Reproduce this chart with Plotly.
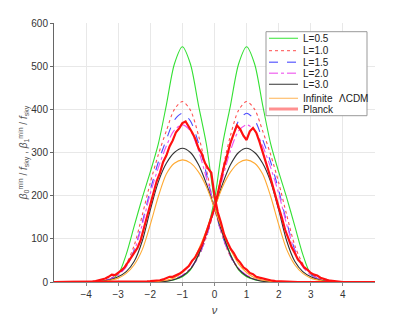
import plotly.graph_objects as go

# ---------------- data ----------------
nu = [-4.5, -4.25, -4.0, -3.75, -3.5, -3.25, -3.0, -2.75, -2.5, -2.25, -2.0, -1.75, -1.5,
      -1.25, -1.0, -0.75, -0.5, -0.25, 0.0, 0.25, 0.5, 0.75, 1.0, 1.25, 1.5, 1.75, 2.0,
      2.25, 2.5, 2.75, 3.0, 3.25, 3.5, 3.75, 4.0, 4.25, 4.5]

b0_L05 = [0, 0, 0, 0.5, 2, 6, 18, 64, 130, 195, 255, 320, 410, 505, 545, 505, 410, 318, 190,
          115, 64, 28, 12, 5, 2, 0.5, 0, 0, 0, 0, 0, 0, 0, 0, 0, 0, 0]
b1_L05 = [0, 0, 0, 0, 0, 0, 0, 0, 0, 0, 0, 0.5, 2, 5, 12, 28, 64, 115, 190, 318, 410, 505, 545,
          505, 410, 320, 255, 195, 130, 64, 18, 6, 2, 0.5, 0, 0, 0]

b0_L10 = [0, 0, 0.3, 1, 3, 8, 20, 42, 85, 155, 230, 295, 350, 400, 418, 398, 340, 260, 171,
          105, 58, 30, 15, 7, 3, 1, 0.5, 0.2, 0, 0, 0, 0, 0, 0, 0, 0, 0]
b1_L10 = [0, 0, 0, 0, 0, 0, 0, 0, 0, 0.2, 0.5, 1, 3, 7, 15, 30, 58, 105, 171, 260, 340, 398, 418,
          400, 350, 295, 230, 155, 85, 42, 20, 8, 3, 1, 0.3, 0, 0]

b0_L15 = [0, 0, 0.3, 1, 2.5, 7, 17, 37, 75, 138, 213, 278, 330, 375, 391, 373, 322, 250, 171,
          106, 59, 31, 15, 7, 3, 1, 0.3, 0, 0, 0, 0, 0, 0, 0, 0, 0, 0]
b1_L15 = [0, 0, 0, 0, 0, 0, 0, 0, 0, 0, 0.3, 1, 3, 7, 15, 31, 59, 106, 171, 250, 322, 373, 391,
          375, 330, 278, 213, 138, 75, 37, 17, 7, 2.5, 1, 0.3, 0, 0]

b0_L20 = [0, 0, 0.3, 0.8, 2, 6, 16, 35, 72, 133, 205, 265, 315, 352, 364, 350, 305, 240, 171,
          107, 60, 32, 16, 7, 3, 1, 0.3, 0, 0, 0, 0, 0, 0, 0, 0, 0, 0]
b1_L20 = [0, 0, 0, 0, 0, 0, 0, 0, 0, 0, 0.3, 1, 3, 7, 16, 32, 60, 107, 171, 240, 305, 350, 364,
          352, 315, 265, 205, 133, 72, 35, 16, 6, 2, 0.8, 0.3, 0, 0]

b0_L30 = [0, 0, 0, 0.5, 1.5, 5, 12, 24, 48, 95, 167, 232, 275, 300, 310, 300, 272, 227, 171,
          112, 62, 30, 14, 6, 2, 0.5, 0, 0, 0, 0, 0, 0, 0, 0, 0, 0, 0]
b1_L30 = [0, 0, 0, 0, 0, 0, 0, 0, 0, 0, 0, 0.5, 2, 6, 14, 30, 62, 112, 171, 227, 272, 300, 310,
          300, 275, 232, 167, 95, 48, 24, 12, 5, 1.5, 0.5, 0, 0, 0]

b0_inf = [0, 0, 0, 0.3, 1, 4, 9, 20, 40, 75, 133, 198, 250, 275, 283, 276, 255, 220, 171,
          120, 75, 42, 22, 10, 4, 1.5, 0.5, 0, 0, 0, 0, 0, 0, 0, 0, 0, 0]
b1_inf = [0, 0, 0, 0, 0, 0, 0, 0, 0, 0, 0.5, 1.5, 4, 10, 22, 42, 75, 120, 171, 220, 255, 276, 283,
          275, 250, 198, 133, 75, 40, 20, 9, 4, 1, 0.3, 0, 0, 0]

nu_planck = [-5.0,
             -4.0, -3.9, -3.8, -3.7, -3.6, -3.5, -3.4, -3.3, -3.2, -3.1,
             -3.0, -2.9, -2.8, -2.7, -2.6, -2.5, -2.4, -2.3, -2.2, -2.1,
             -2.0, -1.9, -1.8, -1.7, -1.6, -1.5, -1.4, -1.3, -1.2, -1.1,
             -1.0, -0.9, -0.8, -0.7, -0.6, -0.5, -0.4, -0.3, -0.2, -0.1,
             0.0, 0.1, 0.2, 0.3, 0.4, 0.5, 0.6, 0.7, 0.8, 0.9,
             1.0, 1.1, 1.2, 1.3, 1.4, 1.5, 1.6, 1.7, 1.8, 1.9,
             2.0, 2.1, 2.2, 2.3, 2.4, 2.5, 2.6, 2.7, 2.8, 2.9,
             3.0, 3.1, 3.2, 3.3, 3.4, 3.5, 3.6, 3.7, 3.8, 3.9,
             4.0, 5.0]

b0_planck = [0,
             0, 0.5, 1, 2, 3.5, 5, 8, 12, 17, 16,
             21, 27, 34, 45, 54, 67, 79, 97, 125, 150,
             182, 206, 234, 253, 278, 293, 314, 328, 347, 356,
             368, 372, 361, 347, 332, 310, 298, 276, 263, 253,
             200, 162, 138, 110, 93, 77, 67, 53, 45, 34,
             29, 21, 18, 12, 10, 8, 6, 4, 3, 2,
             1.5, 1, 1, 0.5, 0.5, 0, 0, 0, 0, 0,
             0, 0, 0, 0, 0, 0, 0, 0, 0, 0,
             0, 0]

b1_planck = [0,
             0, 0, 0, 0, 0, 0, 0, 0, 0, 0,
             0, 0, 0, 0, 0, 0.5, 0.5, 1, 1, 1.5,
             2, 2.5, 3, 4, 6, 9, 12, 12, 15, 19,
             24, 31, 37, 49, 57, 71, 85, 105, 125, 149,
             172, 206, 237, 269, 295, 323, 344, 363, 354, 339,
             329, 349, 357, 346, 325, 303, 277, 253, 225, 201,
             173, 149, 121, 101, 81, 67, 52, 44, 33, 28,
             21, 17, 15, 10, 7, 5, 3, 2, 1, 0.5,
             0, 0]

# ---------------- styles ----------------
series = [
    ("L=0.5", b0_L05, b1_L05, "#33e033", "solid", 1.1),
    ("L=1.0", b0_L10, b1_L10, "#ff5050", "dot", 1.1),
    ("L=1.5", b0_L15, b1_L15, "#4a4aff", "dash", 1.1),
    ("L=2.0", b0_L20, b1_L20, "#f050f0", "dashdot", 1.1),
    ("L=3.0", b0_L30, b1_L30, "#333333", "solid", 1.1),
    ("Infinite", b0_inf, b1_inf, "#ffaa33", "solid", 1.1),
]

fig = go.Figure()
for name, b0, b1, col, dash, w in series:
    for ys in (b0, b1):
        fig.add_trace(go.Scatter(x=nu, y=ys, mode="lines", name=name, showlegend=False,
                                 line=dict(color=col, dash=dash, width=w, shape="spline",
                                           smoothing=0.8)))
for ys in (b0_planck, b1_planck):
    fig.add_trace(go.Scatter(x=nu_planck, y=ys, mode="lines", name="Planck", showlegend=False,
                             line=dict(color="#ff1010", width=2.2)))

# ---------------- layout geometry (page body adds an 8 px offset) ----------------
OFF = 8
L0, T0, PW, PH = 54, 23, 321, 259   # plot area as seen on screen


def px(x):
    return (x - L0) / PW


def py(y):
    return (T0 + PH - y) / PH


shapes = [dict(type="rect", xref="paper", yref="paper", x0=px(266), x1=px(367),
               y0=py(115.7), y1=py(31.7), fillcolor="white",
               line=dict(color="#999999", width=1), layer="above")]
legend_rows = [
    ("L=0.5", "#55e855", "solid", 1.2, 38.3),
    ("L=1.0", "#ff7070", "dot", 1.2, 50.7),
    ("L=1.5", "#7a7aff", "dash", 1.4, 62.3),
    ("L=2.0", "#f280f2", "dashdot", 1.4, 73.3),
    ("L=3.0", "#555555", "solid", 1.2, 84.3),
    ("Infinite", "#ffc070", "solid", 1.2, 98.3),
    ("Planck", "#ff9090", "solid", 3.0, 109.0),
]
annotations = []
for text, col, dash, w, yy in legend_rows:
    shapes.append(dict(type="line", xref="paper", yref="paper", x0=px(269), x1=px(298),
                       y0=py(yy), y1=py(yy), line=dict(color=col, dash=dash, width=w),
                       layer="above"))
    annotations.append(dict(xref="paper", yref="paper", x=px(301), y=py(yy), text=text,
                            showarrow=False, xanchor="left", yanchor="middle",
                            font=dict(size=10, color="#222")))
annotations.append(dict(xref="paper", yref="paper", x=px(337), y=py(98.3), text="ΛCDM",
                        showarrow=False, xanchor="left", yanchor="middle",
                        font=dict(size=10, color="#222")))

W, H = 415, 317
fig.update_layout(
    width=W, height=H,
    margin=dict(l=L0 - OFF, r=W - (L0 - OFF) - PW, t=T0 - OFF, b=H - (T0 - OFF) - PH),
    plot_bgcolor="white", paper_bgcolor="white",
    showlegend=False,
    font=dict(family="Liberation Sans, Arial, sans-serif", size=10, color="#333"),
    shapes=shapes, annotations=annotations,
    xaxis=dict(range=[-5, 5], tickvals=[-4, -3, -2, -1, 0, 1, 2, 3, 4], automargin=False,
               showgrid=True, gridcolor="#e8e8e8", gridwidth=1, zeroline=False,
               showline=True, linecolor="#888", linewidth=1,
               ticks="outside", ticklen=3, tickcolor="#888",
               tickfont=dict(size=10, color="#333"),
               title=dict(text="<i>ν</i>", font=dict(size=11, color="#444"), standoff=7)),
    yaxis=dict(range=[0, 600], dtick=100, showgrid=True, gridcolor="#e8e8e8", gridwidth=1,
               automargin=False,
               zeroline=False, showline=True, linecolor="#666", linewidth=1,
               ticks="outside", ticklen=3, tickcolor="#666",
               tickfont=dict(size=10, color="#333"),
               title=dict(text="<i>β</i><sub>0</sub><sup>min</sup> / <i>f</i><sub>sky</sub> , "
                               "<i>β</i><sub>1</sub><sup>min</sup> / <i>f</i><sub>sky</sub>",
                          font=dict(size=10, color="#555"), standoff=0)),
)

fig.write_html("out.html")
